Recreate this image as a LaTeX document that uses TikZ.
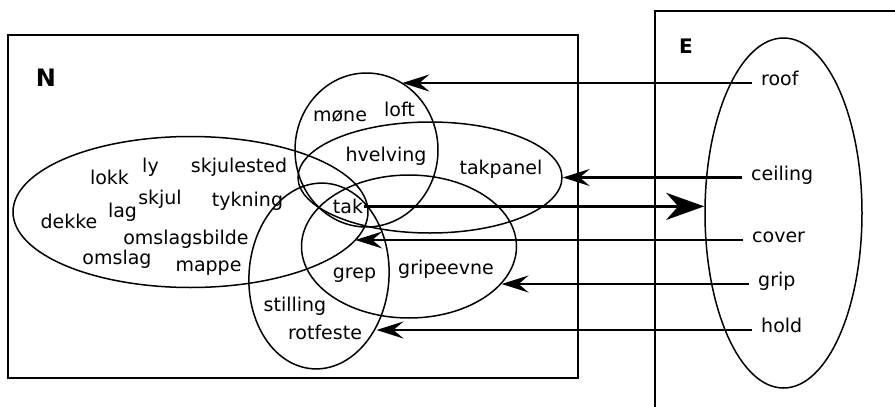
\documentclass[tikz,border=0pt]{standalone}
\usepackage{fontspec}
\setmainfont{DejaVu Sans}
\usetikzlibrary{shapes.geometric,arrows.meta}

\begin{document}
\begin{tikzpicture}[x=1pt,y=-1pt,
  set/.style={draw,ellipse,line width=1.5pt,inner sep=0pt},
  frame/.style={draw,line width=1.9pt},
  word/.style={inner sep=1pt,anchor=mid,font=\fontsize{19}{22}\selectfont},
  lbl/.style={inner xsep=9pt,inner ysep=1pt,anchor=mid west,font=\fontsize{19}{22}\selectfont},
  ptr/.style={line width=#1,-{Stealth[length=27pt,width=17pt,inset=10pt]}},
  ptr/.default=1.5pt,
  bigptr/.style={line width=3.2pt,-{Stealth[length=38pt,width=27pt,inset=12pt]}}]
\useasboundingbox (0,0) rectangle (895,407);

\node[frame,rectangle,minimum width=570pt,minimum height=343pt] (NBOX) at (293,206.5) {};
\draw[frame] (895,11) -| (655,410);
\node[font=\fontsize{24}{28}\selectfont\bfseries] (NLBL) at (46,77.5) {N};
\node[font=\fontsize{20}{24}\selectfont\bfseries] (ELBL) at (686,46.5) {E};

\node[set,minimum width=355pt,minimum height=151pt] (DEK) at (190.5,212) {};
\node[set,minimum width=143pt,minimum height=154pt] (LOF) at (366.5,150) {};
\node[set,minimum width=264pt,minimum height=111pt] (TPN) at (430,177.5) {};
\node[set,minimum width=215pt,minimum height=143pt] (GRP) at (409,246.5) {};
\node[set,minimum width=140pt,minimum height=186pt,rotate=-4] (STL) at (319,276) {};
\node[set,minimum width=157pt,minimum height=350pt] (ESET) at (783.5,213) {};

\foreach \w/\x/\y [count=\i] in {lokk/109.5/181.7, ly/150.5/170, skjulested/239/170,
  skjul/160/201.7, lag/122.5/215, tykning/247.5/203.7, dekke/69/225.7,
  omslagsbilde/186/242, omslag/117/262, mappe/208.5/269, møne/340/118.7,
  loft/399.5/114, hvelving/386/159, takpanel/501/172, grep/354.5/275.7,
  gripeevne/446/272, stilling/295/309, rotfeste/325/337} {
  \node[word] (W\i) at (\x,\y) {\w};
}
\node[word] (TAK) at (348,210.7) {tak};

\node[lbl] (ROOF) at (752,83) {roof};
\node[lbl] (CEIL) at (742,177.5) {ceiling};
\node[lbl] (COVR) at (743,240) {cover};
\node[lbl] (GRIP) at (749,284) {grip};
\node[lbl] (HOLD) at (752,330) {hold};

\draw[ptr=2.3pt] (ROOF.mid west) -- (ROOF.mid west -| LOF.62);
\draw[ptr=2.3pt] (CEIL.mid west) -- (CEIL.mid west -| TPN.east);
\draw[ptr] (COVR.mid west) -- (COVR.mid west -| DEK.-10);
\draw[ptr=2.3pt] (GRIP.mid west) -- (GRIP.mid west -| GRP.-22);
\draw[ptr] (HOLD.mid west) -- (HOLD.mid west -| STL.-38);
\draw[bigptr] (TAK.east) -- (TAK.east -| ESET.west);
\end{tikzpicture}
\end{document}
